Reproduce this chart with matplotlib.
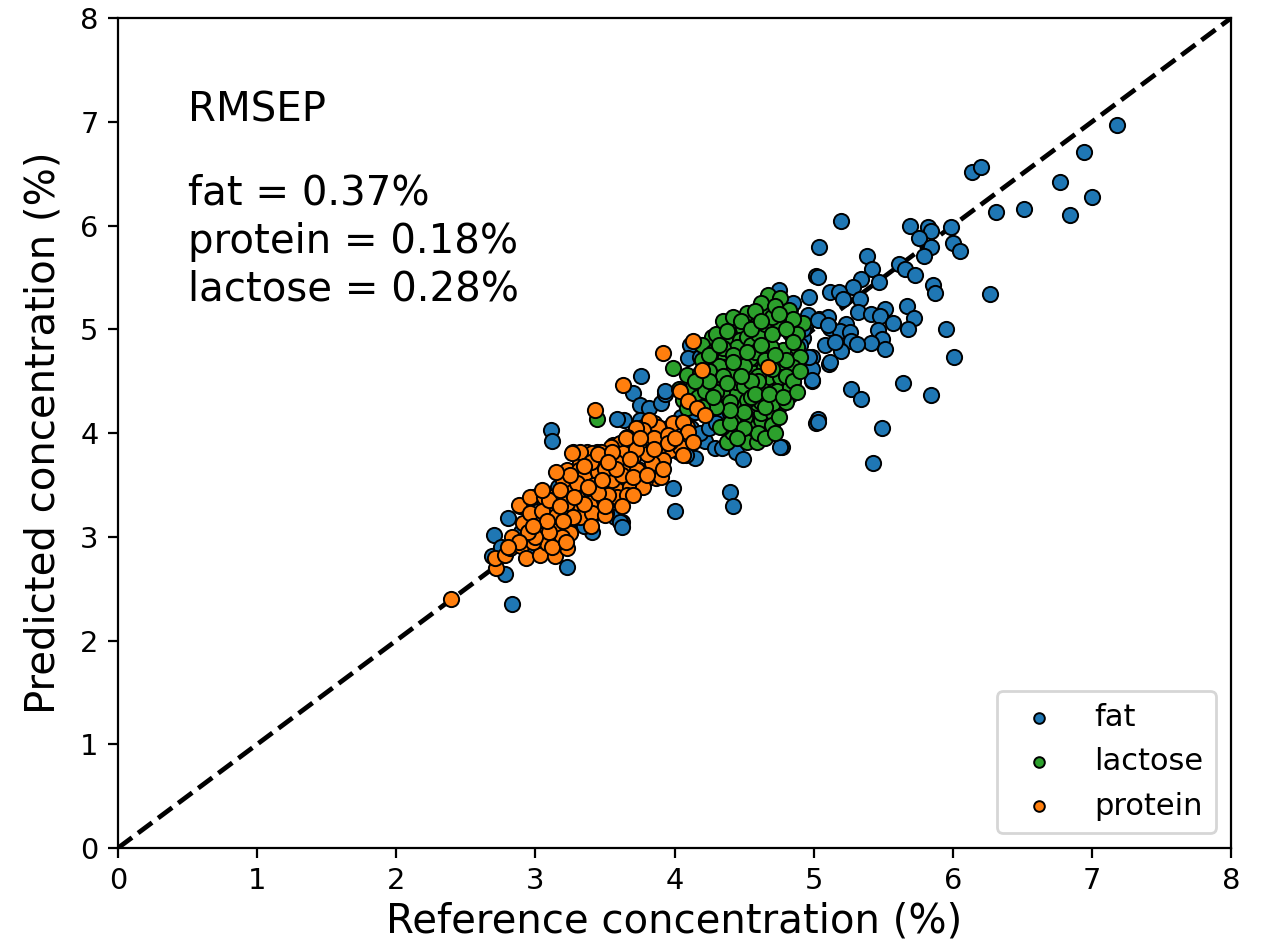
import matplotlib
matplotlib.use("Agg")
import matplotlib.pyplot as plt

# ---------------- data (reference %, predicted %) ----------------
fat_x = [7.18, 6.94, 6.14, 6.20, 6.77, 7.00, 6.84, 6.31, 6.51, 5.20, 5.04, 5.69, 5.82, 5.84, 5.99,
         5.76, 5.84, 6.00, 6.05, 5.79, 5.38, 5.61, 5.66, 5.73, 5.02, 5.42, 5.47, 5.34, 5.28, 5.12,
         5.18, 5.21, 5.33, 4.97, 5.86, 5.87, 6.27, 5.67, 5.51, 5.32, 5.41, 5.48, 5.72, 5.57, 5.68,
         5.95, 5.46, 5.04, 5.10, 5.23, 5.12, 5.19, 5.26, 4.97, 4.94, 5.49, 5.27, 5.41, 5.51, 5.31,
         5.20, 5.08, 5.15, 6.01, 5.11, 4.99, 4.99, 4.99, 5.64, 5.27, 5.34, 5.84, 4.85, 4.85, 4.83,
         5.03, 5.02, 5.49, 5.43, 4.77, 4.75, 4.83, 4.84, 4.96, 5.03, 5.10, 4.92, 4.97, 5.12, 5.03,
         3.11, 3.12, 3.76, 3.70, 3.75, 3.82, 3.90, 3.93, 3.64, 3.75, 3.99, 4.00, 4.22, 4.15, 3.57,
         3.62, 2.80, 2.70, 2.69, 2.78, 2.83, 3.23, 3.16, 4.40, 4.42, 4.27, 4.34, 4.40, 4.29, 4.34,
         4.44, 4.49, 4.76, 4.03, 4.11, 4.10, 4.18, 3.93, 4.08, 3.85, 3.41, 3.61, 3.62, 3.32, 2.95,
         3.59, 3.28, 5.03, 4.99,
         4.05, 4.12, 4.18, 4.25, 4.30, 4.45, 4.52, 4.60, 4.70, 4.75, 4.80, 4.78, 4.88, 4.90, 4.92,
         4.85, 4.60, 4.65, 4.55, 4.45, 4.35, 4.25, 4.15, 3.95, 3.98, 3.88, 3.80, 3.70, 3.60, 3.55,
         3.45, 3.40, 3.35, 3.25, 3.15, 3.05, 2.95, 2.90, 2.75]
fat_y = [6.97, 6.71, 6.52, 6.56, 6.42, 6.28, 6.10, 6.13, 6.16, 6.04, 5.79, 6.00, 5.99, 5.95, 5.99,
         5.88, 5.79, 5.83, 5.75, 5.71, 5.71, 5.63, 5.58, 5.52, 5.51, 5.58, 5.46, 5.48, 5.41, 5.36,
         5.36, 5.29, 5.29, 5.31, 5.43, 5.35, 5.34, 5.22, 5.20, 5.17, 5.15, 5.13, 5.11, 5.06, 5.00,
         5.00, 4.99, 5.10, 5.12, 5.05, 5.01, 4.98, 4.97, 5.12, 5.02, 4.91, 4.89, 4.87, 4.81, 4.86,
         4.79, 4.85, 4.88, 4.73, 4.67, 4.73, 4.62, 4.50, 4.48, 4.42, 4.33, 4.37, 4.58, 4.49, 4.37,
         4.14, 4.10, 4.05, 3.71, 3.87, 5.38, 5.20, 5.09, 5.14, 5.09, 5.04, 4.92, 4.73, 4.68, 5.50,
         4.03, 3.92, 4.55, 4.39, 4.27, 4.24, 4.29, 4.38, 4.13, 4.13, 3.47, 3.25, 3.92, 3.76, 3.19,
         3.14, 3.18, 3.02, 2.81, 2.64, 2.35, 2.71, 3.48, 3.43, 3.30, 4.19, 4.19, 4.19, 3.86, 3.86,
         3.82, 3.75, 3.87, 3.82, 4.85, 4.72, 4.73, 4.41, 3.79, 3.67, 3.05, 3.14, 3.09, 3.79, 2.87,
         4.14, 3.16, 4.11, 4.51,
         4.15, 4.05, 4.00, 4.05, 4.10, 4.00, 3.95, 3.98, 4.20, 4.30, 4.45, 4.55, 4.70, 4.85, 5.00,
         5.25, 5.10, 4.85, 4.60, 4.35, 4.40, 4.30, 4.20, 4.05, 3.95, 3.88, 3.85, 3.70, 3.60, 3.50,
         3.35, 3.20, 3.10, 3.05, 3.00, 2.95, 2.90, 3.05, 2.90]

lactose_x = [4.38, 4.52, 4.59, 4.41, 4.47, 4.54, 4.62, 4.70, 4.71, 4.62, 4.51, 4.42, 4.34,
             4.13, 4.23, 4.33, 4.38, 4.47, 4.57, 4.67, 4.78, 4.18, 4.28, 4.47, 4.59, 4.69, 4.76,
             4.06, 4.09, 4.33, 4.40, 4.71, 4.70,
             4.67, 4.76, 4.82, 4.92, 4.67, 4.54, 4.46, 4.59, 4.74, 4.83, 4.88, 4.90, 4.78, 4.69,
             4.58, 4.47, 4.45, 4.54, 4.64, 4.76, 4.85, 4.57, 4.67, 4.76, 4.47, 4.45, 4.54, 4.64,
             4.74, 4.83, 4.52, 4.62, 4.71, 4.64,
             3.99, 4.27, 4.20, 4.40, 4.49, 4.52, 4.38, 4.47, 4.28, 4.36, 4.27, 4.35, 4.09, 4.18,
             4.27, 4.13, 4.23, 4.34, 4.44, 4.47, 4.45, 4.52, 4.03, 4.17, 4.22,
             4.55, 4.60, 4.65, 4.70, 4.62, 4.72, 4.58, 4.50, 4.60, 4.70, 4.80, 4.40, 4.30, 4.40,
             4.50, 4.55, 4.60, 4.80, 4.85, 4.88, 4.35, 4.42, 4.32, 4.25, 4.20, 4.30, 4.35, 4.42,
             4.58, 4.85, 4.70, 4.65, 4.50, 4.40, 4.30, 4.20, 4.60, 4.65, 4.80, 4.90, 4.75, 4.55,
             4.48, 3.44,
             4.25, 4.32, 4.38, 4.48, 4.55, 4.62, 4.75, 4.80, 4.85, 4.72, 4.62, 4.52, 4.42, 4.35,
             4.25, 4.15, 4.28, 4.38, 4.58, 4.68, 4.78, 4.88, 4.50, 4.45, 4.65, 4.72]
lactose_y = [3.91, 3.91, 3.91, 4.01, 4.05, 4.08, 4.13, 4.08, 4.19, 4.19, 4.15, 4.13, 4.06,
             4.44, 4.48, 4.46, 4.38, 4.46, 4.44, 4.46, 4.44, 4.37, 4.32, 4.29, 4.29, 4.32, 4.27,
             4.32, 4.24, 4.06, 4.10, 4.19, 4.08,
             5.33, 5.30, 5.19, 5.06, 5.19, 5.12, 5.02, 5.02, 5.06, 4.96, 4.83, 4.73, 4.80, 4.83,
             4.90, 4.87, 4.70, 4.72, 4.73, 4.67, 4.64, 4.58, 4.54, 4.54, 4.51, 4.39, 4.41, 4.41,
             4.41, 4.44, 4.32, 4.30, 4.29, 4.64,
             4.63, 4.93, 4.85, 5.02, 5.01, 5.16, 4.90, 4.90, 4.78, 4.73, 4.67, 4.64, 4.56, 4.58,
             4.56, 4.44, 4.48, 4.51, 4.49, 4.61, 4.83, 4.93, 4.42, 4.35, 4.41,
             4.85, 4.95, 5.05, 5.12, 5.25, 5.22, 4.78, 4.65, 4.55, 4.62, 4.70, 4.60, 4.40, 4.30,
             4.45, 4.35, 4.50, 4.55, 4.50, 4.95, 4.82, 4.75, 4.65, 4.60, 4.70, 4.95, 5.08, 5.12,
             5.18, 5.10, 4.95, 4.70, 4.20, 4.22, 4.25, 4.25, 4.00, 4.25, 4.30, 4.60, 4.15, 4.50,
             4.55, 4.14,
             4.75, 4.85, 4.98, 5.08, 5.00, 5.08, 5.15, 5.00, 4.88, 4.75, 4.85, 4.78, 4.68, 4.55,
             4.50, 4.50, 4.35, 4.48, 4.38, 4.38, 4.35, 4.40, 4.05, 3.95, 3.95, 4.00]

protein_x = [3.63, 4.04, 3.43, 3.27, 3.37, 3.44, 3.56, 3.62, 3.70, 3.75, 3.82, 3.77, 3.85, 3.88,
             3.95, 3.99, 4.09, 3.23, 3.32, 3.39, 3.49, 3.56, 3.63, 3.70, 3.75, 3.84, 3.90, 3.97,
             4.04, 3.87, 2.89, 2.98, 3.06, 3.13, 3.21, 3.30, 3.34, 3.41, 3.49, 3.54, 3.61, 3.68,
             3.77, 3.34, 3.44, 3.51, 4.13, 3.92, 4.20, 4.67, 4.10, 4.16, 4.22, 4.06, 4.10, 4.13,
             4.06, 3.97, 3.86, 3.92, 3.90, 3.79, 3.80, 3.88,
             3.88, 3.82, 3.77, 3.72, 3.66, 3.61, 3.54, 3.47, 3.41, 3.32, 3.26, 3.31, 3.39, 3.63,
             3.84, 3.66, 3.73, 3.47, 3.37, 3.27, 3.20, 3.30, 3.39, 3.51, 3.59, 3.68, 3.77, 3.30,
             3.39, 3.49, 3.59, 3.66, 3.23, 3.32, 3.41, 3.50, 3.23,
             2.39, 2.72, 2.71, 2.78, 2.82, 2.83, 2.90, 2.93, 3.03, 3.14, 2.88, 2.96, 3.06, 2.91,
             3.01, 3.03, 3.13, 3.23, 3.16, 3.08, 2.98, 2.96, 3.11, 3.19, 3.23, 3.13, 3.27, 3.34,
             3.27, 3.25, 3.19,
             3.35, 3.45, 3.55, 3.62, 3.70, 3.42, 3.52, 3.62, 3.45, 3.35, 3.15, 3.05, 3.10, 3.00,
             2.95, 3.20, 3.80, 3.90, 3.72, 3.85, 3.95, 3.58, 3.50, 3.40, 3.30, 3.20,
             3.10, 3.18, 3.25, 3.35, 3.45, 3.55, 3.65, 3.75, 3.85, 3.95, 3.58, 3.48, 3.38, 3.28,
             3.18, 3.08, 2.98, 2.88, 2.80, 3.12, 3.22, 3.40, 3.50, 3.70, 3.80, 3.92, 4.00, 3.68,
             3.52, 3.15, 3.05]
protein_y = [4.46, 4.41, 4.22, 3.82, 3.82, 3.82, 3.88, 3.90, 3.91, 3.90, 3.98, 4.06, 4.10, 4.01,
             4.03, 4.10, 4.06, 3.64, 3.71, 3.74, 3.66, 3.77, 3.71, 3.77, 3.64, 3.71, 3.79, 3.84,
             3.87, 3.57, 3.30, 3.38, 3.35, 3.38, 3.37, 3.31, 3.45, 3.42, 3.35, 3.48, 3.45, 3.48,
             3.55, 3.23, 3.26, 3.23, 4.89, 4.77, 4.61, 4.64, 4.31, 4.24, 4.17, 4.11, 4.01, 3.91,
             3.79, 3.91, 3.87, 3.74, 3.58, 3.55, 3.96, 4.00,
             4.06, 4.13, 4.03, 4.05, 3.96, 3.90, 3.87, 3.82, 3.81, 3.82, 3.81, 3.64, 3.67, 3.81,
             3.71, 3.66, 3.64, 3.58, 3.55, 3.52, 3.42, 3.42, 3.45, 3.48, 3.45, 3.48, 3.48, 3.29,
             3.33, 3.35, 3.38, 3.40, 3.23, 3.19, 3.23, 3.21, 3.09,
             2.40, 2.70, 2.80, 2.82, 2.89, 3.00, 2.91, 2.80, 2.82, 2.81, 3.31, 3.38, 3.38, 3.13,
             3.07, 3.16, 3.09, 2.89, 2.95, 2.94, 2.95, 3.23, 3.26, 3.26, 3.33, 3.35, 3.45, 3.52,
             3.19, 3.04, 3.00,
             3.58, 3.62, 3.55, 3.60, 3.58, 3.50, 3.40, 3.30, 3.42, 3.32, 3.20, 3.25, 3.05, 3.00,
             3.05, 3.15, 3.80, 3.88, 3.85, 3.95, 3.98, 3.72, 3.65, 3.72, 3.52, 3.55,
             3.35, 3.45, 3.60, 3.68, 3.80, 3.82, 3.95, 3.95, 3.85, 3.90, 3.65, 3.55, 3.48, 3.38,
             3.30, 3.15, 3.10, 2.95, 2.90, 2.90, 2.95, 3.10, 3.30, 3.40, 3.60, 3.65, 3.95, 3.75,
             3.72, 3.62, 3.45]

series_names = ["fat", "lactose", "protein"]
rmsep_lines = ["fat = 0.37%", "protein = 0.18%", "lactose = 0.28%"]
ticks = [0, 1, 2, 3, 4, 5, 6, 7, 8]

# ---------------- figure ----------------
fig = plt.figure(figsize=(6.33, 4.755), dpi=200)
ax = fig.add_axes([0.0932, 0.1083, 0.8792, 0.8727])

colors = {"fat": "#1f77b4", "lactose": "#2ca02c", "protein": "#ff7f0e"}
data = {"fat": (fat_x, fat_y), "lactose": (lactose_x, lactose_y), "protein": (protein_x, protein_y)}

ax.plot([0, 8], [0, 8], color="black", linestyle="--", linewidth=1.7, zorder=1)
for name in series_names:
    xs, ys = data[name]
    ax.scatter(xs, ys, s=30, color=colors[name], edgecolors="black", linewidths=0.7,
               label=name, zorder=2)

ax.set_xlim(0, 8)
ax.set_ylim(0, 8)
ax.set_xticks(ticks)
ax.set_yticks(ticks)
ax.tick_params(labelsize=10.4)
ax.set_xlabel("Reference concentration (%)", fontsize=14.5, labelpad=2)
ax.set_ylabel("Predicted concentration (%)", fontsize=14.5, labelpad=6)

ax.text(0.5, 7.0, "RMSEP", fontsize=14.5, va="baseline", ha="left")
for i, line in enumerate(rmsep_lines):
    ax.text(0.5, 6.2 - 0.463 * i, line, fontsize=14.5, va="baseline", ha="left")

ax.legend(loc="lower right", fontsize=11, markerscale=0.7)

fig.savefig("out.png", dpi=200)
